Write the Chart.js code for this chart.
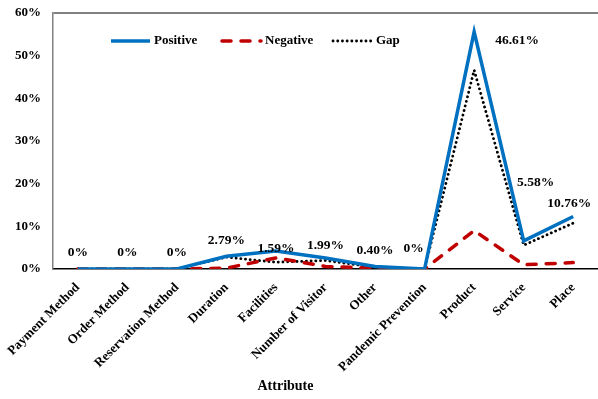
<!DOCTYPE html>
<html lang="en">
<head>
    <meta charset="UTF-8">
    <script src="https://cdn.jsdelivr.net/npm/chart.js"></script>
    <title>Attribute</title>
    <style>
        body { margin: 0; background: #fff; }
        #box { width: 598px; height: 399px; }
    </style>
</head>
<body>
    <div id="box">
        <canvas id="grafico"></canvas>
    </div>
<script>

// dados do grafico
const atributos = ['Payment Method', 'Order Method', 'Reservation Method', 'Duration', 'Facilities',
    'Number of Visitor', 'Other', 'Pandemic Prevention', 'Product', 'Service', 'Place'];
const positivo = [0, 0, 0, 3.0, 4.2, 2.6, 0.6, 0, 55.6, 6.6, 12.3];
const negativo = [0, 0, 0, 0.2, 2.6, 0.6, 0.2, 0, 9.0, 1.0, 1.5];
const gap = [0, 0, 0, 2.79, 1.59, 1.99, 0.40, 0, 46.61, 5.58, 10.76];
const rotulosGap = ['0%', '0%', '0%', '2.79%', '1.59%', '1.99%', '0.40%', '0%', '46.61%', '5.58%', '10.76%'];
const ticksY = [0, 10, 20, 30, 40, 50, 60];

// deslocamento dos rotulos em relacao ao ponto (dx, dy)
const desloc = [[0, -16], [0, -16], [0, -16], [0, -17], [0, -14], [0, -15],
    [0, -17], [-11, -20], [43, -30], [12, -63], [-4, -20]];

const fonte = 'Liberation Serif, Times New Roman, serif';

// rotulos de dados + legenda + titulo do eixo
const extras = {
    id: 'extras',
    afterDraw(chart) {
        const ctx = chart.ctx;
        const area = chart.chartArea;
        ctx.save();
        ctx.font = 'bold 13.5px ' + fonte;
        ctx.fillStyle = '#000';
        ctx.textAlign = 'center';
        ctx.textBaseline = 'middle';
        const pontos = chart.getDatasetMeta(2).data;
        pontos.forEach((p, i) => {
            ctx.fillText(rotulosGap[i], p.x + desloc[i][0], p.y + desloc[i][1]);
        });

        // legenda
        ctx.font = 'bold 13px ' + fonte;
        chart.data.datasets.forEach((ds, i) => {
            const x0 = area.left + 58 + i * 111;
            const y = area.top + 28;
            ctx.beginPath();
            ctx.strokeStyle = ds.borderColor;
            ctx.lineWidth = ds.borderWidth;
            ctx.lineCap = ds.borderCapStyle || 'butt';
            ctx.setLineDash(ds.borderDash || []);
            ctx.moveTo(x0, y);
            ctx.lineTo(x0 + 39, y);
            ctx.stroke();
            ctx.setLineDash([]);
            ctx.textAlign = 'left';
            ctx.fillStyle = '#000';
            ctx.fillText(ds.label, x0 + 43, y);
        });

        // titulo do eixo x
        ctx.font = 'bold 14px ' + fonte;
        ctx.textAlign = 'center';
        ctx.fillText('Attribute', (area.left + area.right) / 2 - 40, 386);
        ctx.restore();
    }
};

new Chart(document.getElementById('grafico'), {
    type: 'line',
    data: {
        labels: atributos,
        datasets: [
            {
                label: 'Positive',
                data: positivo,
                borderColor: '#0070C0',
                borderWidth: 3.5,
                pointRadius: 0,
                tension: 0,
                borderCapStyle: 'butt'
            },
            {
                label: 'Negative',
                data: negativo,
                borderColor: '#C00000',
                borderWidth: 3.5,
                borderDash: [9, 10],
                borderCapStyle: 'round',
                pointRadius: 0,
                tension: 0
            },
            {
                label: 'Gap',
                data: gap,
                borderColor: '#000000',
                borderWidth: 2.8,
                borderDash: [0.1, 4.6],
                borderCapStyle: 'round',
                pointRadius: 0,
                tension: 0
            }
        ]
    },
    options: {
        responsive: true,
        maintainAspectRatio: false,
        animation: false,
        layout: { padding: { top: 13, right: 0, left: 0, bottom: 0 } },
        plugins: {
            legend: { display: false },
            tooltip: { enabled: false }
        },
        scales: {
            x: {
                offset: true,
                grid: { display: false },
                border: { color: '#000', width: 1.5 },
                ticks: {
                    color: '#000',
                    font: { family: fonte, size: 13, weight: 'bold' },
                    minRotation: 45,
                    maxRotation: 45,
                    autoSkip: false,
                    padding: 3
                },
                afterFit: s => { s.height = 130; }
            },
            y: {
                min: 0,
                max: 60,
                afterBuildTicks: s => { s.ticks = ticksY.map(v => ({ value: v })); },
                grid: {
                    drawTicks: false,
                    color: c => c.tick && c.tick.value === 60 ? '#808080' : 'rgba(0,0,0,0)',
                    lineWidth: 2
                },
                border: { color: '#808080', width: 1.5 },
                ticks: {
                    color: '#000',
                    padding: 12,
                    font: { family: fonte, size: 13, weight: 'bold' },
                    callback: v => v + '%'
                },
                afterFit: s => {
                    s.width = 53;
                    s.paddingTop = 0;
                    s.paddingBottom = 0;
                }
            }
        }
    },
    plugins: [extras]
});

</script>
</body>
</html>
